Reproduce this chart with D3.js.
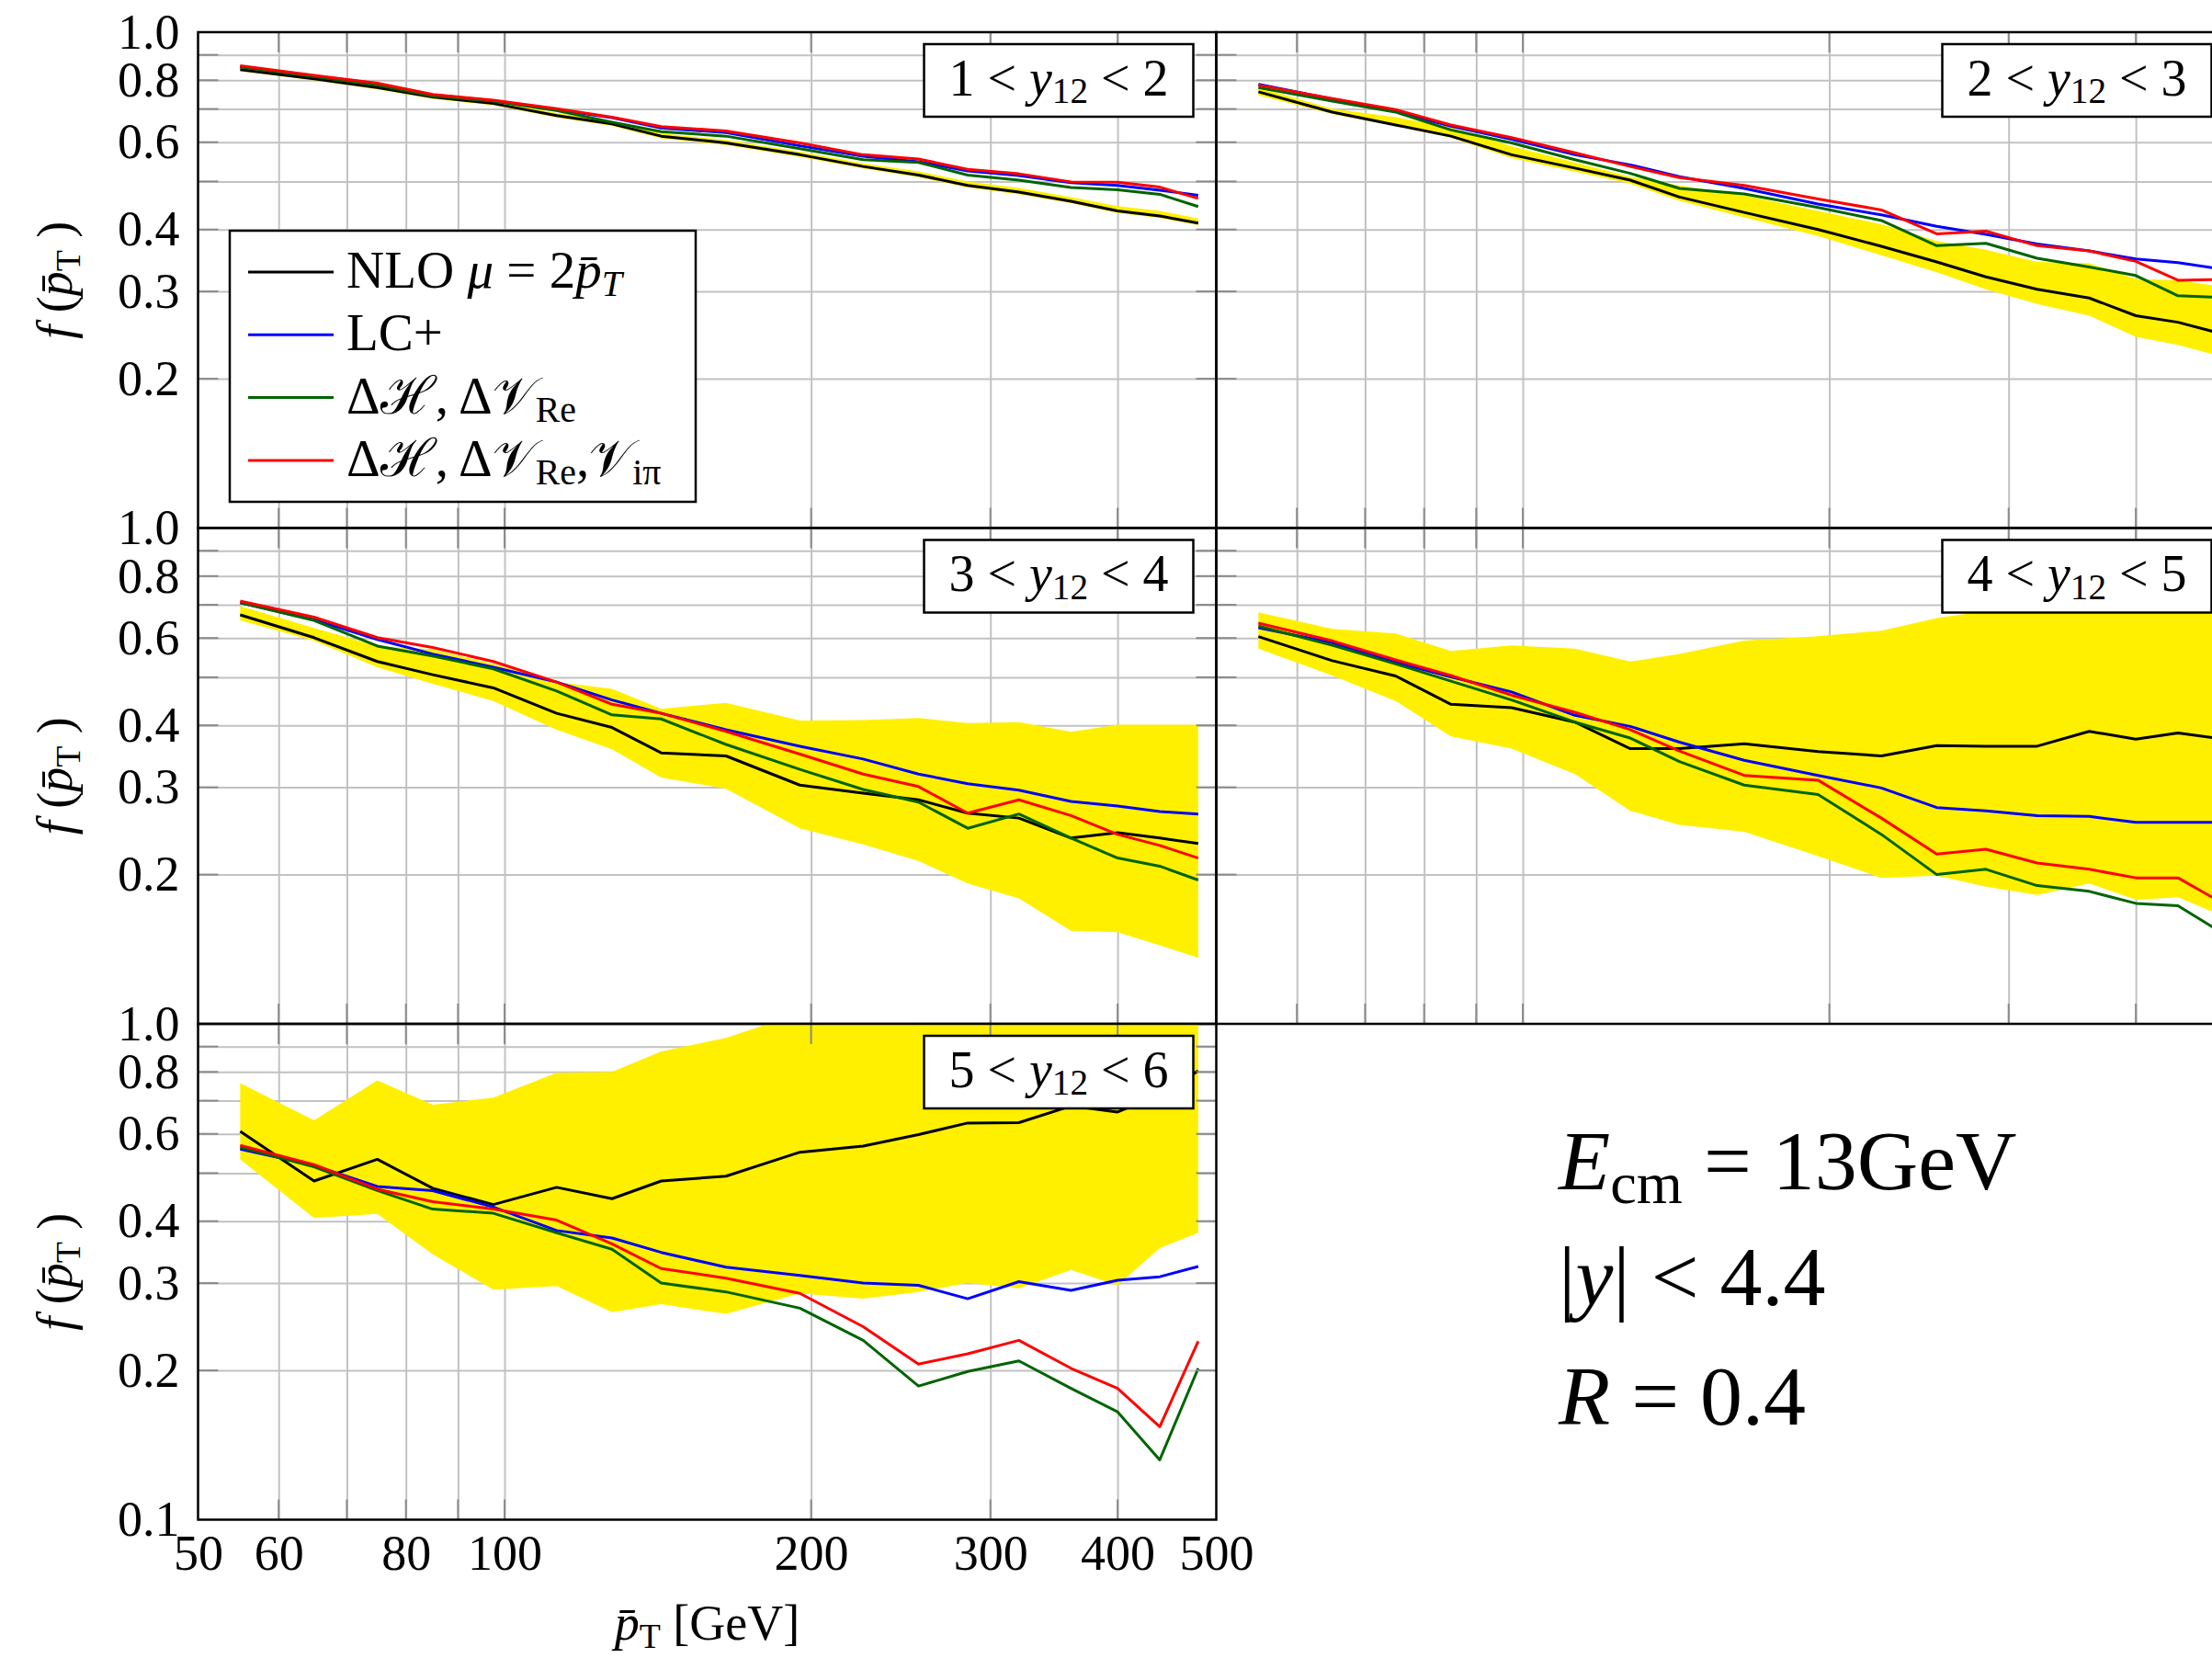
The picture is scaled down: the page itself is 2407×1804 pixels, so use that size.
<!DOCTYPE html>
<html>
<head>
<meta charset="utf-8">
<script src="https://d3js.org/d3.v7.min.js"></script>
<style>
  body { margin: 0; background: #fff; }
  text { font-family: "Liberation Serif", "DejaVu Serif", serif; fill: #000; }
</style>
</head>
<body>
<svg id="chart" width="2407" height="1804"></svg>
<script>
"use strict";

// bin centres in pT (GeV)
var ptBins = [55, 65, 75, 85, 97.5, 112.5, 127.5, 142.5, 165, 195, 225, 255, 285, 320, 360, 400, 440, 480];

// rapidity slices, one panel each
var y12Bins = [[1, 2], [2, 3], [3, 4], [4, 5], [5, 6]];

// 1 < y12 < 2
var nlo_1  = [0.840, 0.805, 0.773, 0.740, 0.718, 0.679, 0.653, 0.617, 0.598, 0.566, 0.536, 0.515, 0.491, 0.476, 0.456, 0.436, 0.426, 0.412];
var lc_1   = [0.852, 0.816, 0.787, 0.747, 0.727, 0.698, 0.672, 0.641, 0.627, 0.590, 0.562, 0.548, 0.525, 0.514, 0.497, 0.491, 0.480, 0.469];
var dh_1   = [0.851, 0.814, 0.782, 0.743, 0.726, 0.695, 0.658, 0.630, 0.617, 0.582, 0.553, 0.546, 0.515, 0.503, 0.486, 0.481, 0.471, 0.445];
var dhpi_1 = [0.856, 0.818, 0.789, 0.749, 0.729, 0.701, 0.674, 0.645, 0.632, 0.598, 0.566, 0.555, 0.529, 0.518, 0.499, 0.498, 0.487, 0.462];
var lo_1   = [0.834, 0.799, 0.767, 0.734, 0.712, 0.673, 0.647, 0.611, 0.592, 0.560, 0.531, 0.510, 0.486, 0.471, 0.452, 0.432, 0.422, 0.408];
var hi_1   = [0.848, 0.813, 0.781, 0.748, 0.726, 0.687, 0.661, 0.625, 0.606, 0.574, 0.544, 0.524, 0.500, 0.485, 0.465, 0.446, 0.436, 0.421];

// 2 < y12 < 3
var nlo_2  = [0.758, 0.690, 0.650, 0.617, 0.566, 0.532, 0.503, 0.465, 0.433, 0.400, 0.370, 0.344, 0.321, 0.303, 0.291, 0.268, 0.260, 0.248];
var lc_2   = [0.785, 0.733, 0.692, 0.646, 0.608, 0.566, 0.540, 0.511, 0.484, 0.450, 0.428, 0.406, 0.391, 0.374, 0.362, 0.349, 0.343, 0.334];
var dh_2   = [0.773, 0.726, 0.690, 0.635, 0.598, 0.553, 0.519, 0.484, 0.472, 0.443, 0.417, 0.371, 0.375, 0.350, 0.336, 0.323, 0.294, 0.292];
var dhpi_2 = [0.782, 0.735, 0.698, 0.650, 0.613, 0.571, 0.536, 0.509, 0.491, 0.461, 0.438, 0.392, 0.397, 0.371, 0.362, 0.345, 0.316, 0.317];
var lo_2   = [0.746, 0.684, 0.647, 0.613, 0.557, 0.523, 0.495, 0.457, 0.423, 0.388, 0.355, 0.328, 0.303, 0.283, 0.268, 0.243, 0.234, 0.223];
var hi_2   = [0.773, 0.701, 0.674, 0.643, 0.589, 0.546, 0.511, 0.491, 0.469, 0.436, 0.410, 0.379, 0.364, 0.344, 0.342, 0.318, 0.316, 0.308];

// 3 < y12 < 4
var nlo_3  = [0.668, 0.601, 0.538, 0.506, 0.476, 0.423, 0.396, 0.352, 0.347, 0.303, 0.292, 0.283, 0.266, 0.260, 0.237, 0.243, 0.237, 0.231];
var lc_3   = [0.707, 0.653, 0.596, 0.557, 0.524, 0.489, 0.450, 0.423, 0.392, 0.363, 0.342, 0.319, 0.305, 0.296, 0.281, 0.275, 0.268, 0.265];
var dh_3   = [0.707, 0.651, 0.578, 0.552, 0.520, 0.469, 0.420, 0.412, 0.366, 0.326, 0.297, 0.280, 0.248, 0.265, 0.237, 0.216, 0.208, 0.195];
var dhpi_3 = [0.712, 0.661, 0.601, 0.574, 0.538, 0.489, 0.441, 0.423, 0.389, 0.350, 0.319, 0.301, 0.266, 0.283, 0.263, 0.241, 0.229, 0.216];
var lo_3   = [0.651, 0.592, 0.524, 0.485, 0.448, 0.392, 0.358, 0.314, 0.298, 0.248, 0.230, 0.213, 0.192, 0.179, 0.154, 0.153, 0.144, 0.136];
var hi_3   = [0.696, 0.629, 0.578, 0.569, 0.532, 0.489, 0.474, 0.432, 0.444, 0.409, 0.410, 0.414, 0.404, 0.406, 0.388, 0.401, 0.401, 0.401];

// 4 < y12 < 5
var nlo_4  = [0.604, 0.540, 0.503, 0.441, 0.434, 0.406, 0.359, 0.359, 0.367, 0.354, 0.347, 0.364, 0.363, 0.363, 0.389, 0.375, 0.386, 0.377];
var lc_4   = [0.629, 0.587, 0.536, 0.501, 0.467, 0.419, 0.398, 0.370, 0.340, 0.317, 0.299, 0.273, 0.269, 0.263, 0.262, 0.255, 0.255, 0.255];
var dh_4   = [0.634, 0.580, 0.532, 0.491, 0.450, 0.406, 0.377, 0.338, 0.303, 0.290, 0.241, 0.200, 0.205, 0.190, 0.185, 0.175, 0.173, 0.155];
var dhpi_4 = [0.643, 0.592, 0.542, 0.504, 0.460, 0.425, 0.392, 0.355, 0.317, 0.310, 0.260, 0.220, 0.225, 0.211, 0.205, 0.197, 0.197, 0.178];
var lo_4   = [0.571, 0.504, 0.448, 0.380, 0.359, 0.319, 0.269, 0.252, 0.244, 0.218, 0.197, 0.199, 0.189, 0.182, 0.192, 0.178, 0.180, 0.167];
var hi_4   = [0.676, 0.626, 0.613, 0.565, 0.580, 0.571, 0.538, 0.557, 0.593, 0.605, 0.621, 0.658, 0.680, 0.700, 0.720, 0.740, 0.750, 0.760];

// 5 < y12 < 6
var nlo_5  = [0.607, 0.482, 0.533, 0.466, 0.432, 0.468, 0.444, 0.482, 0.493, 0.551, 0.567, 0.598, 0.631, 0.632, 0.683, 0.664, 0.720, 0.804];
var lc_5   = [0.559, 0.518, 0.470, 0.461, 0.427, 0.383, 0.370, 0.346, 0.323, 0.311, 0.300, 0.297, 0.279, 0.302, 0.290, 0.304, 0.309, 0.324];
var dh_5   = [0.564, 0.515, 0.461, 0.423, 0.415, 0.379, 0.351, 0.300, 0.288, 0.267, 0.230, 0.186, 0.199, 0.209, 0.184, 0.165, 0.132, 0.202];
var dhpi_5 = [0.569, 0.520, 0.464, 0.438, 0.423, 0.402, 0.360, 0.321, 0.307, 0.286, 0.245, 0.206, 0.216, 0.230, 0.202, 0.184, 0.154, 0.229];
var lo_5   = [0.533, 0.406, 0.414, 0.343, 0.291, 0.296, 0.262, 0.272, 0.260, 0.286, 0.279, 0.288, 0.300, 0.293, 0.319, 0.297, 0.353, 0.379];
var hi_5   = [0.759, 0.639, 0.769, 0.687, 0.710, 0.797, 0.800, 0.880, 0.937, 1.050, 1.100, 1.150, 1.200, 1.200, 1.200, 1.200, 1.200, 1.200];

// axis ticks
var xTickLabels = [50, 60, 80, 100, 200, 300, 400, 500];
var xGrid = [60, 70, 80, 90, 100, 200, 300, 400];
var yTickLabels = [0.2, 0.3, 0.4, 0.6, 0.8, 1.0];
var yGrid = [0.2, 0.3, 0.4, 0.5, 0.6, 0.7, 0.8, 0.9];

var panels = [
  { bin: y12Bins[0], nlo: nlo_1, lc: lc_1, dh: dh_1, dhpi: dhpi_1, lo: lo_1, hi: hi_1 },
  { bin: y12Bins[1], nlo: nlo_2, lc: lc_2, dh: dh_2, dhpi: dhpi_2, lo: lo_2, hi: hi_2 },
  { bin: y12Bins[2], nlo: nlo_3, lc: lc_3, dh: dh_3, dhpi: dhpi_3, lo: lo_3, hi: hi_3 },
  { bin: y12Bins[3], nlo: nlo_4, lc: lc_4, dh: dh_4, dhpi: dhpi_4, lo: lo_4, hi: hi_4 },
  { bin: y12Bins[4], nlo: nlo_5, lc: lc_5, dh: dh_5, dhpi: dhpi_5, lo: lo_5, hi: hi_5 }
];

// drawing order = legend order
var series = [
  { key: "nlo",  color: "#000000" },
  { key: "lc",   color: "#0000ff" },
  { key: "dh",   color: "#006400" },
  { key: "dhpi", color: "#ff0000" }
];

var W = 1108, H = 539.5;
var cols = [215.5, 1323.5], rows = [35, 574.5, 1114];
var FS = 54;

var svg = d3.select("#chart");

var x = d3.scaleLog().domain([50, 500]).range([0, W]);
var y = d3.scaleLog().domain([0.1, 1]).range([H, 0]);

// small helper for text with italics and subscripts
function rich(sel, parts, size) {
  var shift = 0;
  parts.forEach(function (p) {
    var o = p[1] || {};
    var target = o.sub ? size * 0.16 : 0;
    var ts = sel.append("tspan")
      .text(p[0])
      .attr("font-size", o.sub ? size * 0.7 : size)
      .attr("font-style", o.it ? "italic" : "normal");
    if (target !== shift) {
      ts.attr("dy", target - shift);
      shift = target;
    }
  });
  return sel;
}

panels.forEach(function (p, i) {
  var col = i % 2, row = Math.floor(i / 2);
  var g = svg.append("g")
    .attr("transform", "translate(" + cols[col] + "," + rows[row] + ")");

  g.append("clipPath").attr("id", "clip" + i)
    .append("rect").attr("width", W).attr("height", H);

  // grid
  var gx = g.append("g")
    .attr("transform", "translate(0," + H + ")")
    .call(d3.axisBottom(x).tickValues(xGrid).tickSize(-H).tickFormat(""));
  var gy = g.append("g")
    .call(d3.axisLeft(y).tickValues(yGrid).tickSize(-W).tickFormat(""));
  [gx, gy].forEach(function (a) {
    a.select(".domain").remove();
    a.selectAll("line").attr("stroke", "#c2c2c2").attr("stroke-width", 2);
  });

  var plot = g.append("g").attr("clip-path", "url(#clip" + i + ")");
  var rowsData = d3.range(ptBins.length).map(function (k) {
    return { pt: ptBins[k], lo: p.lo[k], hi: p.hi[k] };
  });

  plot.append("path")
    .datum(rowsData)
    .attr("fill", "#fff000")
    .attr("d", d3.area()
      .x(function (d) { return x(d.pt); })
      .y0(function (d) { return y(d.lo); })
      .y1(function (d) { return y(d.hi); }));

  series.forEach(function (s) {
    plot.append("path")
      .datum(d3.zip(ptBins, p[s.key]))
      .attr("fill", "none")
      .attr("stroke", s.color)
      .attr("stroke-width", 3)
      .attr("stroke-linejoin", "round")
      .attr("d", d3.line()
        .x(function (d) { return x(d[0]); })
        .y(function (d) { return y(d[1]); }));
  });

  // tick marks on the frame
  var tk = g.append("g").attr("stroke", "#8a8a8a").attr("stroke-width", 2);
  xGrid.forEach(function (v) {
    tk.append("line").attr("x1", x(v)).attr("x2", x(v)).attr("y1", H).attr("y2", H - 22);
    tk.append("line").attr("x1", x(v)).attr("x2", x(v)).attr("y1", 0).attr("y2", 22);
  });
  yGrid.forEach(function (v) {
    tk.append("line").attr("x1", 0).attr("x2", 22).attr("y1", y(v)).attr("y2", y(v));
    tk.append("line").attr("x1", W - 22).attr("x2", W).attr("y1", y(v)).attr("y2", y(v));
  });

  g.append("rect")
    .attr("width", W).attr("height", H)
    .attr("fill", "none").attr("stroke", "#000").attr("stroke-width", 2.5);

  // y tick labels, left column only
  if (col === 0) {
    var yl = g.append("g")
      .call(d3.axisLeft(y)
        .tickValues(row === 2 ? [0.1].concat(yTickLabels) : yTickLabels)
        .tickSize(0).tickPadding(20)
        .tickFormat(d3.format(".1f")));
    yl.select(".domain").remove();
    yl.selectAll("text").attr("font-size", FS).attr("font-family", null);

    var ylab = g.append("text")
      .attr("transform", "translate(" + (60 - cols[0]) + "," + (H / 2) + ") rotate(-90)")
      .attr("text-anchor", "middle")
      .attr("dy", 18);
    rich(ylab, [["f", { it: true }], [" ("], ["p\u0304", { it: true }], ["T", { sub: true }], [" )"]], FS);
  }

  // x tick labels on the bottom panel
  if (row === 2) {
    var xl = g.append("g")
      .attr("transform", "translate(0," + H + ")")
      .call(d3.axisBottom(x).tickValues(xTickLabels).tickSize(0).tickPadding(16)
        .tickFormat(d3.format("d")));
    xl.select(".domain").remove();
    xl.selectAll("text").attr("font-size", FS).attr("font-family", null);

    var xlab = g.append("text")
      .attr("x", W / 2).attr("y", 1784 - rows[2])
      .attr("text-anchor", "middle");
    rich(xlab, [["p\u0304", { it: true }], ["T", { sub: true }], [" [GeV]"]], FS);
  }

  // rapidity label box
  var bw = 293, bh = 79, bx = W - 25 - bw, by = 13;
  g.append("rect").attr("x", bx).attr("y", by).attr("width", bw).attr("height", bh)
    .attr("fill", "#fff").attr("stroke", "#000").attr("stroke-width", 2.5);
  var bt = g.append("text")
    .attr("x", bx + bw / 2).attr("y", by + bh / 2 + 16)
    .attr("text-anchor", "middle");
  rich(bt, [[p.bin[0] + " < "], ["y", { it: true }], ["12", { sub: true }], [" < " + p.bin[1]]], 56);
});

// legend inside the first panel
var legendLabels = [
  [["NLO "], ["\u03bc", { it: true }], [" = 2"], ["p\u0304", { it: true }], ["T", { it: true, sub: true }]],
  [["LC+"]],
  [["\u0394"], ["\u210B"], [", \u0394"], ["\uD835\uDCB1"], ["Re", { sub: true }]],
  [["\u0394"], ["\u210B"], [", \u0394"], ["\uD835\uDCB1"], ["Re", { sub: true }], [","], ["\uD835\uDCB1"], ["i\u03c0", { sub: true }]]
];
var leg = svg.append("g");
leg.append("rect").attr("x", 250).attr("y", 251).attr("width", 507).attr("height", 295)
  .attr("fill", "#fff").attr("stroke", "#000").attr("stroke-width", 2.5);
series.forEach(function (s, k) {
  var cy = 296 + k * 68.3;
  leg.append("line").attr("x1", 270).attr("x2", 363).attr("y1", cy).attr("y2", cy)
    .attr("stroke", s.color).attr("stroke-width", 3);
  rich(leg.append("text").attr("x", 377).attr("y", cy + 17), legendLabels[k], 57);
});

// run conditions, bottom right
var notes = [
  [["E", { it: true }], ["cm", { sub: true }], [" = 13GeV"]],
  [["|"], ["y", { it: true }], ["| < 4.4"]],
  [["R", { it: true }], [" = 0.4"]]
];
notes.forEach(function (n, k) {
  rich(svg.append("text").attr("x", 1696).attr("y", [1294, 1420, 1550][k]), n, 92);
});
</script>
</body>
</html>
